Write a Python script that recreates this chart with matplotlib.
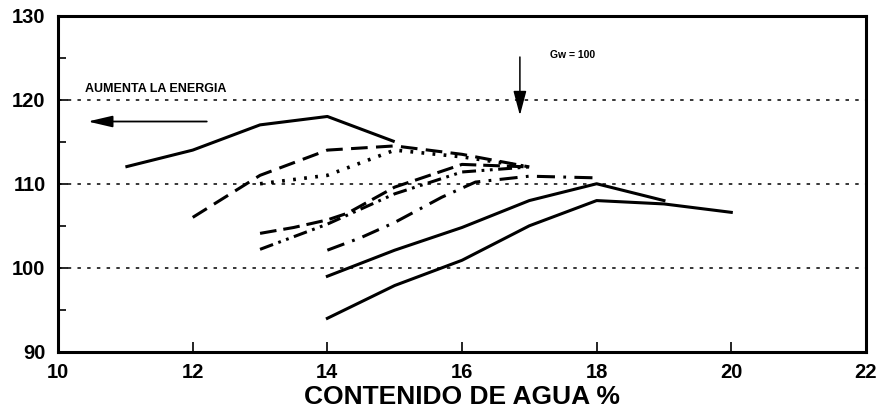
import numpy as np
import matplotlib
matplotlib.use('Agg')
import matplotlib.pyplot as plt

plt.rcParams['font.family'] = ['Liberation Sans', 'DejaVu Sans']
plt.rcParams['lines.scale_dashes'] = False

# curvas de compactacion (contenido de agua %, densidad)
x_sol1 = [11, 12, 13, 14, 15]
y_sol1 = [112, 114, 117, 118, 115]

x_dash = [12, 13, 14, 15, 16, 17]
y_dash = [106, 111, 114, 114.5, 113.5, 112]

x_dot = [13, 14, 15, 16, 17]
y_dot = [110, 111, 114, 113.2, 112]

x_lda = [13, 13.5, 14, 14.3, 15, 16, 17]
y_lda = [104.1, 104.8, 105.7, 106.5, 109.6, 112.3, 112]

x_ddd = [13, 14, 15, 16, 17]
y_ddd = [102.2, 105.2, 108.8, 111.4, 112]

x_dd = [14, 14.5, 15, 15.7, 16.2, 17, 18]
y_dd = [102.1, 103.6, 105.4, 108.4, 110.2, 110.9, 110.7]

x_sol2 = [14, 15, 16, 17, 18, 19]
y_sol2 = [99, 102.1, 104.8, 108, 110, 108]

x_sol3 = [14, 15, 16, 17, 18, 19, 20]
y_sol3 = [94, 97.9, 100.9, 105, 108, 107.6, 106.6]

xticks = [10, 12, 14, 16, 18, 20, 22]
yticks = [90, 100, 110, 120, 130]

fig = plt.figure(figsize=(8.8, 4.2), dpi=100)
ax = fig.add_axes([0.066, 0.162, 0.918, 0.801])

lw = 2.2
ax.plot(x_sol1, y_sol1, color='black', lw=lw, solid_capstyle='butt')
ax.plot(x_dash, y_dash, color='black', lw=lw, dashes=(12, 6))
ax.plot(x_dot, y_dot, color='black', lw=2.6, dashes=(2, 6))
ax.plot(x_lda, y_lda, color='black', lw=lw, dashes=(12, 5))
ax.plot(x_ddd, y_ddd, color='black', lw=lw, dashes=(10, 4, 2, 4, 2, 4))
ax.plot(x_dd, y_dd, color='black', lw=lw, dashes=(13, 6, 2, 6))
ax.plot(x_sol2, y_sol2, color='black', lw=lw)
ax.plot(x_sol3, y_sol3, color='black', lw=lw)

for yg in [100, 110, 120]:
    ax.axhline(yg, color='black', lw=1.1, dashes=(2.5, 4.5), zorder=0)

ax.set_xlim(10, 22)
ax.set_ylim(90, 130)
ax.set_xticks(xticks)
ax.set_yticks(yticks)
ax.set_yticks([95, 105, 115, 125], minor=True)
ax.tick_params(axis='both', which='major', direction='in', length=7, width=1.2,
               labelsize=14.5)
ax.tick_params(axis='y', which='major', pad=9)
ax.tick_params(axis='x', which='major', pad=8)
ax.tick_params(axis='y', which='minor', direction='in', length=6, width=1.2)
for lab in ax.get_xticklabels() + ax.get_yticklabels():
    lab.set_fontweight('bold')
for s in ax.spines.values():
    s.set_linewidth(2.2)

ax.set_xlabel('CONTENIDO DE AGUA %', fontsize=19, fontweight='bold', labelpad=2)

# anotaciones
ax.text(10.4, 120.9, 'AUMENTA LA ENERGIA', fontsize=9, fontweight='bold',
        va='baseline', ha='left')
ax.annotate('', xy=(10.4, 117.4), xytext=(12.25, 117.4),
            arrowprops=dict(arrowstyle='-|>,head_length=1.5,head_width=0.35',
                            color='black', lw=1.3))
ax.text(17.3, 125.3, 'Gw = 100', fontsize=7.5, fontweight='bold',
        va='center', ha='left')
ax.annotate('', xy=(16.86, 117.8), xytext=(16.86, 125.4),
            arrowprops=dict(arrowstyle='-|>,head_length=1.5,head_width=0.4',
                            color='black', lw=1.1))

fig.savefig('out.png', dpi=100)
